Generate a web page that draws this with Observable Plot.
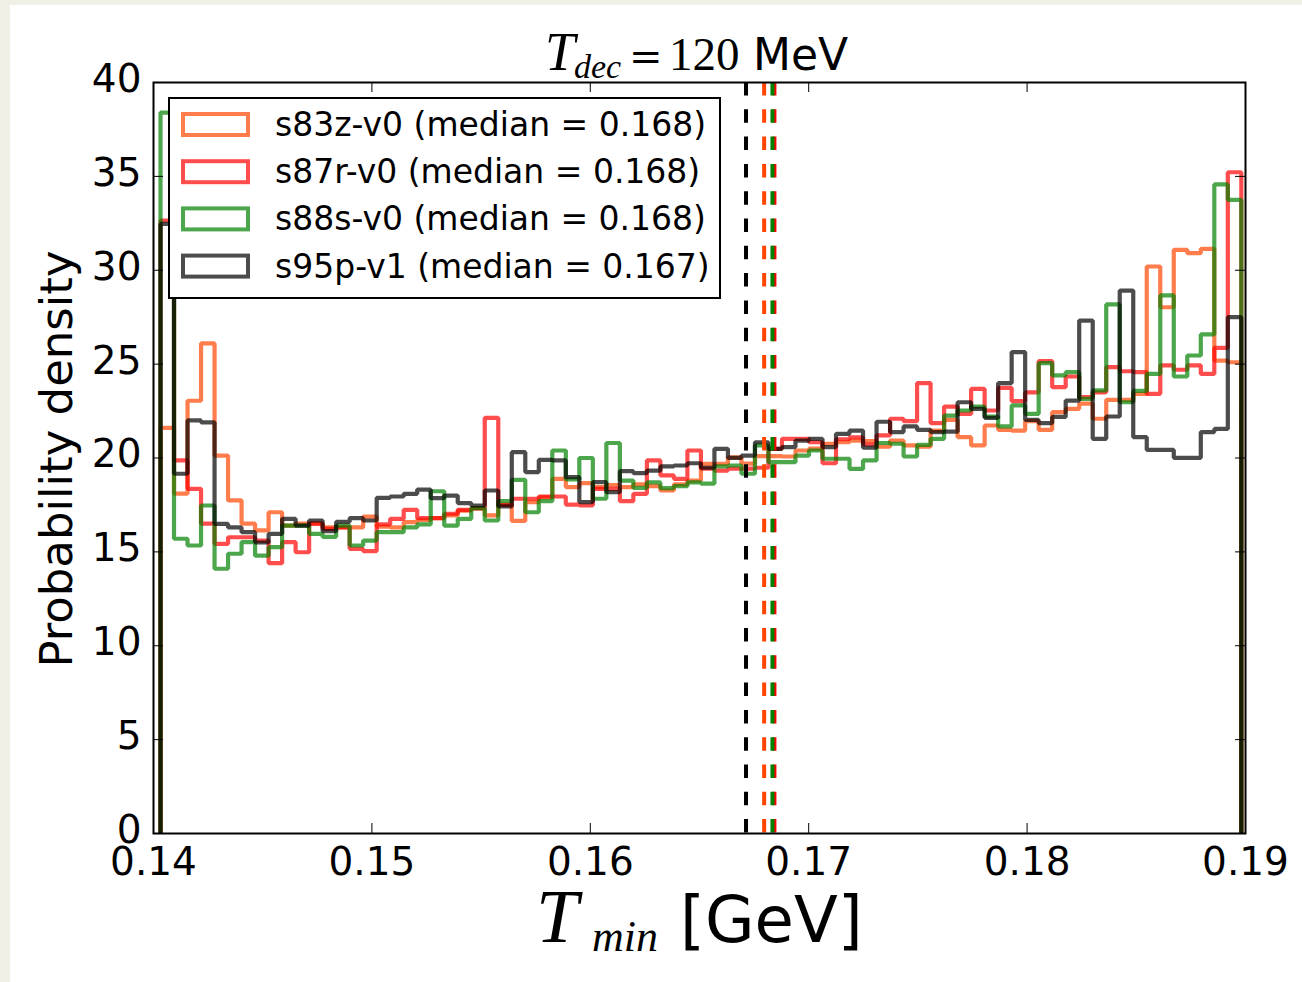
<!DOCTYPE html>
<html>
<head>
<meta charset="utf-8">
<script src="https://cdn.jsdelivr.net/npm/d3@7"></script>
<script src="https://cdn.jsdelivr.net/npm/@observablehq/plot@0.6"></script>
<style>
  html, body { margin: 0; padding: 0; background: #f1f0e7; width: 1302px; height: 982px; overflow: hidden; }
  #page { position: absolute; left: 10px; top: 5px; width: 1292px; height: 977px; background: #ffffff; }
  #chart { position: absolute; left: 0; top: 0; width: 1302px; height: 982px; }
</style>
</head>
<body>
<div id="page"></div>
<div id="chart"></div>
<script>
// ---- Data ----
const names   = ["s83z-v0", "s87r-v0", "s88s-v0", "s95p-v1"];
const colors  = ["orangered", "red", "green", "black"];
const medians = [0.16796, 0.16843, 0.16834, 0.16713];

// histogram binning (80 bins)
const binStart = 0.140321;
const binWidth = 0.0006186;

const s83z = [21.6, 18.1, 23.05, 26.1, 20.13, 17.74, 16.5, 16.14, 17.11, 16.4,
  16.5, 16.5, 16.3, 16.3, 16.3, 16.88, 16.35, 16.3, 16.58, 16.7,
  16.8, 16.94, 17.2, 17.3, 16.94, 17.5, 16.65, 17.65, 17.9, 18.89,
  18.45, 18.66, 18.45, 18.55, 18.45, 18.6, 18.5, 18.27, 18.6, 18.8,
  19.69, 19.69, 20.03, 19.7, 20.1, 20.1, 20.08, 20.4, 20.5, 20.76,
  20.84, 20.93, 20.9, 20.6, 20.93, 20.67, 20.6, 21.46, 22.03, 21.11,
  20.67, 21.73, 21.5, 21.46, 21.96, 21.5, 22.44, 22.62, 22.9, 22.09,
  23.1, 23.1, 23.42, 30.2, 28.03, 31.09, 30.91, 31.14, 25.19, 25.1];

const s87r = [32.65, 19.87, 18.36, 16.5, 15.43, 15.78, 15.78, 15.6, 14.4, 15.52,
  14.98, 16.5, 16.23, 16.3, 15.16, 15.04, 16.46, 16.76, 17.24, 16.8,
  16.8, 17.03, 17.24, 17.33, 22.14, 17.5, 17.83, 17.83, 17.95, 17.95,
  17.52, 17.47, 18.36, 18.36, 17.7, 18.09, 19.87, 19.07, 18.89, 20.4,
  19.43, 19.33, 19.43, 19.43, 19.48, 20.49, 21.02, 21.02, 20.84, 19.72,
  21.0, 21.1, 20.72, 21.2, 22.09, 21.96, 23.99, 21.86, 22.74, 22.35,
  23.68, 22.53, 23.74, 23.03, 23.5, 25.16, 23.77, 24.34, 23.24, 23.5,
  24.84, 24.62, 24.57, 23.42, 24.93, 24.7, 24.93, 24.48, 25.87, 35.22];

const s88s = [38.4, 15.7, 15.34, 17.47, 14.1, 14.9, 15.52, 14.8, 15.25, 16.4,
  16.4, 15.96, 15.8, 16.4, 15.34, 15.6, 16.05, 16.05, 16.3, 16.46,
  18.23, 16.4, 16.76, 17.33, 16.67, 17.7, 18.84, 17.11, 17.7, 20.4,
  18.86, 20.0, 17.83, 20.8, 18.8, 18.41, 18.7, 18.4, 18.5, 18.7,
  18.64, 19.55, 19.6, 19.16, 20.67, 19.78, 19.78, 20.13, 20.4, 19.96,
  19.96, 19.42, 19.87, 20.8, 20.76, 20.08, 20.7, 21.02, 22.26, 22.53,
  22.74, 22.2, 21.68, 22.8, 22.35, 25.05, 24.4, 24.57, 23.15, 23.6,
  28.18, 22.97, 23.57, 24.48, 28.66, 24.34, 25.46, 26.58, 34.57, 33.75];

const s95p = [32.47, 19.16, 22.0, 21.9, 16.49, 16.3, 16.05, 15.5, 15.96, 16.76,
  16.4, 16.67, 16.1, 16.6, 16.8, 16.67, 17.88, 17.95, 18.09, 18.32,
  17.86, 18.0, 17.6, 17.47, 18.27, 17.42, 20.31, 19.25, 19.9, 19.87,
  18.98, 17.65, 18.71, 18.18, 19.3, 19.19, 19.33, 19.55, 19.6, 19.72,
  19.48, 20.49, 20.01, 20.13, 20.84, 20.49, 20.58, 20.93, 21.02, 20.58,
  21.29, 21.46, 20.55, 21.93, 21.38, 21.68, 21.5, 21.38, 21.4, 22.97,
  22.62, 22.14, 23.99, 25.64, 22.03, 21.86, 22.19, 23.06, 27.32, 21.02,
  22.21, 28.92, 21.11, 20.43, 20.43, 20.01, 20.01, 21.38, 21.55, 27.5];

const seriesValues = [s83z, s87r, s88s, s95p];

const xTicks = [0.14, 0.15, 0.16, 0.17, 0.18, 0.19];
const yTicks = [0, 5, 10, 15, 20, 25, 30, 35, 40];

// ---- Build step outlines (histtype = step) ----
function outline(vals, name) {
  const edge = i => binStart + i * binWidth;
  const pts = [{x: edge(0), y: 0, s: name}];
  vals.forEach((v, i) => pts.push({x: edge(i), y: v, s: name}));
  pts.push({x: edge(vals.length), y: 0, s: name});
  return pts;
}

const W = 1302, H = 982;
const mL = 153, mR = 57, mT = 82, mB = 149;
const innerW = W - mL - mR, innerH = H - mT - mB;

const lineMarks = seriesValues.map((vals, k) =>
  Plot.line(outline(vals, names[k]), {
    x: "x", y: "y", curve: "step-after",
    stroke: colors[k], strokeOpacity: 0.7, strokeWidth: 4.2,
    strokeLinejoin: "miter", strokeLinecap: "butt"
  })
);

const medianOrder = [3, 0, 1, 2];
const medianMarks = medianOrder.map(k =>
  Plot.ruleX([medians[k]], {
    x: d => d, y1: 40, y2: 0,
    stroke: colors[k], strokeWidth: 4, strokeDasharray: "13.5,13.8"
  })
);

const chart = Plot.plot({
  width: W, height: H,
  marginLeft: mL, marginRight: mR, marginTop: mT, marginBottom: mB,
  style: {fontFamily: "DejaVu Sans", background: "transparent", color: "black"},
  x: {domain: [0.14, 0.19], label: null},
  y: {domain: [0, 40], label: null},
  marks: [
    ...lineMarks,
    ...medianMarks,
    // inward ticks on all four sides
    Plot.ruleX(xTicks, {x: d => d, insetTop: innerH - 10, stroke: "black", strokeWidth: 1}),
    Plot.ruleX(xTicks, {x: d => d, insetBottom: innerH - 10, stroke: "black", strokeWidth: 1}),
    Plot.ruleY(yTicks, {y: d => d, insetRight: innerW - 10, stroke: "black", strokeWidth: 1}),
    Plot.ruleY(yTicks, {y: d => d, insetLeft: innerW - 10, stroke: "black", strokeWidth: 1}),
    Plot.axisX(xTicks, {tickSize: 0, tickPadding: 14, fontSize: 39, tickFormat: d => d.toFixed(2), label: null}),
    Plot.axisY(yTicks, {tickSize: 0, tickPadding: 12, dy: -3, fontSize: 39, tickFormat: d => String(d), label: null}),
    Plot.frame({stroke: "black", strokeWidth: 2})
  ]
});

document.getElementById("chart").appendChild(chart);

// ---- Text overlays: title, axis labels, legend ----
const svg = d3.select(chart);
const ns = svg.append("g").attr("class", "annotations").attr("text-anchor", "start").attr("fill", "black");

// Title: T_dec = 120 MeV
const title = ns.append("g");
title.append("text").attr("x", 545).attr("y", 70)
  .attr("font-family", "Liberation Serif").attr("font-style", "italic").attr("font-size", 54).text("T");
title.append("text").attr("x", 574).attr("y", 78)
  .attr("font-family", "Liberation Serif").attr("font-style", "italic").attr("font-size", 34).text("dec");
title.append("text").attr("x", 629).attr("y", 70)
  .attr("font-family", "DejaVu Serif").attr("font-size", 40).text("=");
title.append("text").attr("x", 669).attr("y", 70)
  .attr("font-family", "Liberation Serif").attr("font-size", 47).text("120");
title.append("text").attr("x", 753).attr("y", 70)
  .attr("font-family", "DejaVu Sans").attr("font-size", 44).text("MeV");

// X label: T_min [GeV]
const xl = ns.append("g");
xl.append("text").attr("x", 536).attr("y", 942)
  .attr("font-family", "Liberation Serif").attr("font-style", "italic").attr("font-size", 76).text("T");
xl.append("text").attr("x", 592).attr("y", 951)
  .attr("font-family", "Liberation Serif").attr("font-style", "italic").attr("font-size", 44).text("min");
xl.append("text").attr("x", 680).attr("y", 942)
  .attr("font-family", "DejaVu Sans").attr("font-size", 64).text("[GeV]");

// Y label
ns.append("text")
  .attr("transform", "translate(72,459) rotate(-90)")
  .attr("text-anchor", "middle")
  .attr("font-family", "DejaVu Sans").attr("font-size", 45)
  .text("Probability density");

// Legend
const lg = ns.append("g").attr("transform", "translate(169,98)");
lg.append("rect").attr("x", 0).attr("y", 0).attr("width", 551).attr("height", 200)
  .attr("fill", "white").attr("stroke", "black").attr("stroke-width", 2);
names.forEach((n, k) => {
  const row = lg.append("g").attr("transform", `translate(0,${14 + k * 47.2})`);
  row.append("rect").attr("x", 14).attr("y", 2).attr("width", 65).attr("height", 21)
    .attr("fill", "none").attr("stroke", colors[k]).attr("stroke-opacity", 0.7).attr("stroke-width", 4);
  row.append("text").attr("x", 106).attr("y", 24)
    .attr("font-family", "DejaVu Sans").attr("font-size", 33)
    .text(`${n} (median = ${medians[k].toFixed(3)})`);
});
</script>
</body>
</html>
